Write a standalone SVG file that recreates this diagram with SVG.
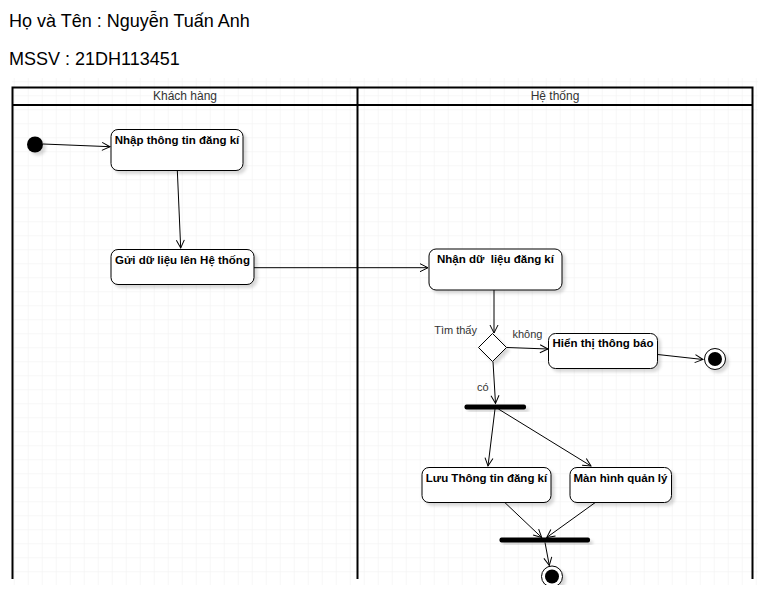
<svg xmlns="http://www.w3.org/2000/svg" width="758" height="593" viewBox="0 0 758 593">
<defs>
  <pattern id="grid" x="13.7" y="109.3" width="14" height="14" patternUnits="userSpaceOnUse">
    <path d="M0,0 L14,0 M0,0 L0,14" fill="none" stroke="#f0f0f0" stroke-width="1"/>
  </pattern>
  <clipPath id="clip"><rect x="0" y="0" width="758" height="585"/></clipPath>
  <filter id="sh" x="-20%" y="-20%" width="150%" height="160%">
    <feDropShadow dx="3" dy="3" stdDeviation="1.5" flood-color="#000" flood-opacity="0.15"/>
  </filter>
  <marker id="arr" markerWidth="12" markerHeight="12" refX="9" refY="5" orient="auto" markerUnits="userSpaceOnUse">
    <path d="M1,1 L9,5 L1,9" fill="none" stroke="#000" stroke-width="1"/>
  </marker>
</defs>
<style>
  .title{font-family:"Liberation Sans",Arial,sans-serif;font-size:18px;fill:#000}
  .lane{font-family:"Liberation Sans",Arial,sans-serif;font-size:12px;fill:#333}
  .lbl{font-family:"Liberation Sans",Arial,sans-serif;font-size:11px;fill:#333}
  .nt{font-family:"Liberation Sans",Arial,sans-serif;font-size:11.5px;font-weight:bold;fill:#000;text-anchor:middle;white-space:pre}
  .box{fill:#fff;stroke:#000;stroke-width:1;filter:url(#sh)}
  .edge{fill:none;stroke:#000;stroke-width:1;marker-end:url(#arr)}
  .pool{fill:none;stroke:#000;stroke-width:2}
</style>
<rect width="758" height="593" fill="#fff"/>
<g clip-path="url(#clip)">
<rect x="12" y="78" width="746" height="515" fill="url(#grid)"/>

<text class="title" x="9" y="27">Họ và Tên : Nguyễn Tuấn Anh</text>
<text class="title" x="9" y="65">MSSV : 21DH113451</text>

<g id="pool">
  <path class="pool" d="M12.5,579 L12.5,87.5 L752.5,87.5 L752.5,579 M12.5,105 L752.5,105 M357.5,87.5 L357.5,579"/>
  <text class="lane" x="185" y="100" text-anchor="middle">Khách hàng</text>
  <text class="lane" x="555" y="100" text-anchor="middle">Hệ thống</text>
</g>

<g id="connectors">
  <path class="edge" d="M43,144 L110,146.7"/>
  <path class="edge" d="M177.3,170 L180.7,248"/>
  <path class="edge" d="M254,267.7 L428,267.7"/>
  <path class="edge" d="M494,290 L494,333"/>
  <path class="edge" d="M506.7,347.5 L548,349"/>
  <path class="edge" d="M657.7,354.5 L703,359.5"/>
  <path class="edge" d="M493,361.7 L495.5,403.5"/>
  <path class="edge" d="M495,409 L488,466"/>
  <path class="edge" d="M498.4,409 L591,466"/>
  <path class="edge" d="M505,502.7 L541.7,537.5"/>
  <path class="edge" d="M595,502.7 L546.7,537.5"/>
  <path class="edge" d="M545,542.5 L549.3,565.5"/>
  <text class="lbl" x="477" y="334" text-anchor="end">Tìm thấy</text>
  <text class="lbl" x="512.5" y="337.5">không</text>
  <text class="lbl" x="477" y="390.5">có</text>
</g>

<g id="start">
  <circle cx="35" cy="144.5" r="8" fill="#000" filter="url(#sh)"/>
</g>

<g id="n1">
  <rect class="box" x="111" y="129.5" width="132" height="41" rx="7"/>
  <text class="nt" x="177" y="143.5">Nhập thông tin đăng kí</text>
</g>

<g id="n2">
  <rect class="box" x="111" y="249.5" width="143" height="35" rx="7"/>
  <text class="nt" x="182.5" y="263.5">Gửi dữ liệu lên Hệ thống</text>
</g>

<g id="n3">
  <rect class="box" x="429" y="249" width="133" height="41" rx="7"/>
  <text class="nt" x="495.5" y="263">Nhận dữ  liệu đăng kí</text>
</g>

<g id="decision">
  <path d="M492.5,333.5 L506.5,347.5 L492.5,361.5 L478.5,347.5 Z" fill="#fff" stroke="#000" stroke-width="1" filter="url(#sh)"/>
</g>

<g id="n4">
  <rect class="box" x="548.5" y="333.5" width="109" height="35" rx="7"/>
  <text class="nt" x="603" y="347">Hiển thị thông báo</text>
</g>

<g id="end1">
  <circle cx="715" cy="359" r="10.5" fill="#fff" stroke="#000" stroke-width="1" filter="url(#sh)"/>
  <circle cx="715" cy="359" r="7" fill="#000"/>
</g>

<g id="fork">
  <rect x="464.5" y="404.5" width="61.5" height="5" rx="2" fill="#000" filter="url(#sh)"/>
</g>

<g id="n5">
  <rect class="box" x="422" y="467.5" width="129" height="35" rx="7"/>
  <text class="nt" x="486.5" y="482">Lưu Thông tin đăng kí</text>
</g>

<g id="n6">
  <rect class="box" x="570" y="467.5" width="101.5" height="35" rx="7"/>
  <text class="nt" x="620.5" y="482">Màn hình quản lý</text>
</g>

<g id="join">
  <rect x="499.5" y="537.5" width="90.5" height="5" rx="2" fill="#000" filter="url(#sh)"/>
</g>

<g id="end2">
  <circle cx="552" cy="576.5" r="10.5" fill="#fff" stroke="#000" stroke-width="1" filter="url(#sh)"/>
  <circle cx="552" cy="576.5" r="7" fill="#000"/>
</g>
</g>
</svg>
